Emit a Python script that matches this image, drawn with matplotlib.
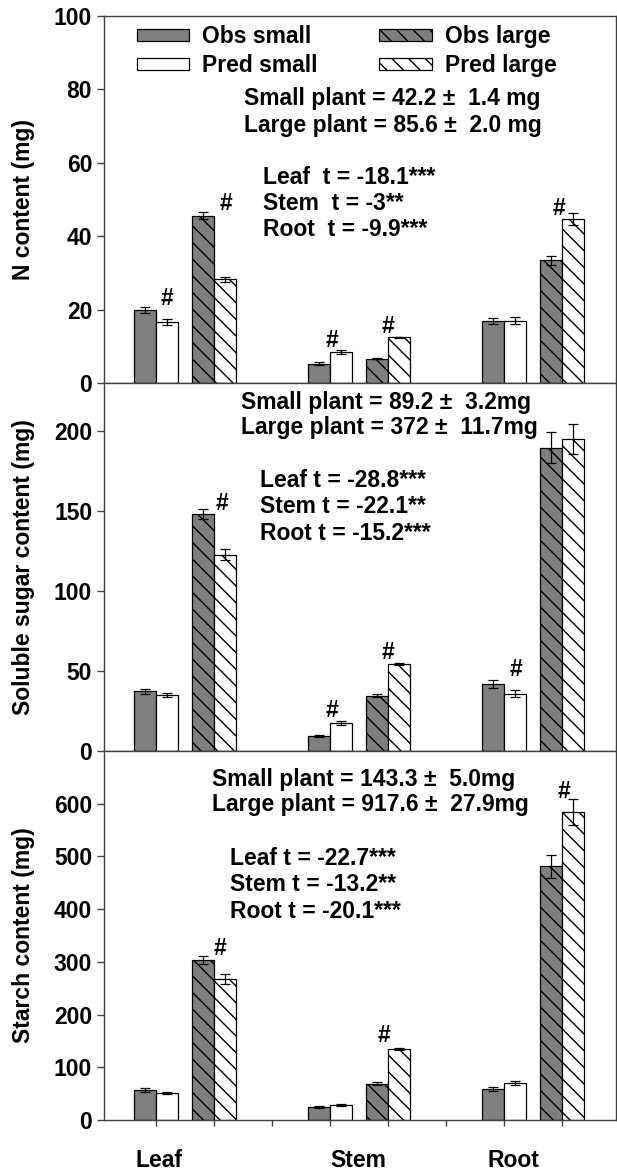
import numpy as np
import matplotlib
matplotlib.use("Agg")
import matplotlib.pyplot as plt

plt.rcParams['font.family'] = ['Liberation Sans', 'DejaVu Sans']
plt.rcParams['font.weight'] = 'bold'
plt.rcParams['axes.labelweight'] = 'bold'
plt.rcParams['hatch.linewidth'] = 1.0

# ---- data ----
organs = ["Leaf", "Stem", "Root"]
series = ["Obs small", "Pred small", "Obs large", "Pred large"]

# N content (mg): order Leaf, Stem, Root
n_obs_small = [19.9, 5.3, 17.0]
n_obs_small_err = [0.9, 0.4, 0.8]
n_pred_small = [16.7, 8.4, 17.0]
n_pred_small_err = [0.8, 0.5, 0.9]
n_obs_large = [45.6, 6.6, 33.4]
n_obs_large_err = [1.0, 0.1, 1.3]
n_pred_large = [28.3, 12.4, 44.7]
n_pred_large_err = [0.7, 0.1, 1.6]

# soluble sugar content (mg)
s_obs_small = [37.3, 9.2, 41.9]
s_obs_small_err = [1.5, 0.5, 2.3]
s_pred_small = [35.2, 17.7, 35.9]
s_pred_small_err = [1.3, 1.2, 2.3]
s_obs_large = [148.1, 34.6, 189.6]
s_obs_large_err = [3.4, 0.8, 9.6]
s_pred_large = [122.8, 54.4, 194.8]
s_pred_large_err = [3.3, 0.8, 9.3]

# starch content (mg)
st_obs_small = [57.0, 24.7, 59.0]
st_obs_small_err = [3.0, 1.0, 4.0]
st_pred_small = [51.3, 29.0, 70.0]
st_pred_small_err = [2.5, 1.5, 3.5]
st_obs_large = [303.0, 69.0, 481.6]
st_obs_large_err = [7.5, 2.5, 22.0]
st_pred_large = [267.4, 135.0, 584.3]
st_pred_large_err = [9.0, 1.5, 25.0]

n_text = ["Small plant = 42.2 \u00b1  1.4 mg", "Large plant = 85.6 \u00b1  2.0 mg"]
n_ttest = ["Leaf  t = -18.1***", "Stem  t = -3**", "Root  t = -9.9***"]
s_text = ["Small plant = 89.2 \u00b1  3.2mg", "Large plant = 372 \u00b1  11.7mg"]
s_ttest = ["Leaf t = -28.8***", "Stem t = -22.1**", "Root t = -15.2***"]
st_text = ["Small plant = 143.3 \u00b1  5.0mg", "Large plant = 917.6 \u00b1  27.9mg"]
st_ttest = ["Leaf t = -22.7***", "Stem t = -13.2**", "Root t = -20.1***"]

# "#" marks: x position on the bar axis, y value
n_hash_x = [1.19, 2.21, 4.03, 5.0, 7.95]
n_hash_y = [23.0, 48.8, 11.7, 15.3, 47.6]
s_hash_x = [2.13, 4.03, 5.0, 7.2]
s_hash_y = [154.8, 25.4, 61.7, 51.0]
st_hash_x = [2.1, 4.93, 8.03]
st_hash_y = [325.0, 160.0, 623.0]

FS = 16.5
GRAY = '#7f7f7f'
W = 0.375
small_pos = np.array([1, 4, 7])
large_pos = np.array([2, 5, 8])


def draw_panel(ax, obs_s, obs_s_e, pred_s, pred_s_e, obs_l, obs_l_e, pred_l, pred_l_e):
    ekw = dict(ecolor='black', elinewidth=0.9, capsize=3.8, capthick=0.9)
    b1 = ax.bar(small_pos - W / 2, obs_s, W, yerr=obs_s_e, color=GRAY,
                edgecolor='black', linewidth=0.9, error_kw=ekw, zorder=2)
    b2 = ax.bar(small_pos + W / 2, pred_s, W, yerr=pred_s_e, color='white',
                edgecolor='black', linewidth=0.9, error_kw=ekw, zorder=2)
    b3 = ax.bar(large_pos - W / 2, obs_l, W, yerr=obs_l_e, color=GRAY,
                edgecolor='black', linewidth=0.9, hatch='\\\\', error_kw=ekw, zorder=2)
    b4 = ax.bar(large_pos + W / 2, pred_l, W, yerr=pred_l_e, color='white',
                edgecolor='black', linewidth=0.9, hatch='\\\\', error_kw=ekw, zorder=2)
    ax.set_xlim(0.1, 8.93)
    for sp in ax.spines.values():
        sp.set_color('#404040')
        sp.set_linewidth(1.0)
    ax.tick_params(axis='y', direction='out', length=5, width=1,
                   labelsize=FS, color='#404040')
    ax.tick_params(axis='x', length=0, labelbottom=False)
    return [b1, b2, b3, b4]


def add_text(ax, lines, x, y0, dy):
    for i, t in enumerate(lines):
        ax.text(x, y0 - i * dy, t, transform=ax.transAxes, fontsize=FS,
                fontweight='bold', ha='left', va='center')


fig = plt.figure(figsize=(6.17, 11.73), dpi=100)
left, width = 104 / 617, 512 / 617
ax1 = fig.add_axes([left, 1 - 383 / 1173, width, 367 / 1173])
ax2 = fig.add_axes([left, 1 - 751 / 1173, width, 368 / 1173])
ax3 = fig.add_axes([left, 1 - 1120 / 1173, width, 369 / 1173])

# N content
bars = draw_panel(ax1, n_obs_small, n_obs_small_err, n_pred_small, n_pred_small_err,
                  n_obs_large, n_obs_large_err, n_pred_large, n_pred_large_err)
ax1.set_ylim(0, 100)
ax1.set_yticks(np.arange(0, 101, 20))
ax1.set_ylabel("N content (mg)", fontsize=FS)
add_text(ax1, n_text, 0.273, 0.774, 0.073)
add_text(ax1, n_ttest, 0.311, 0.559, 0.071)
for x, y in zip(n_hash_x, n_hash_y):
    ax1.text(x, y, "#", fontsize=FS, fontweight='bold', ha='center', va='center')
ax1.legend([bars[0], bars[1], bars[2], bars[3]], series, ncol=2, frameon=False,
           loc='upper left', bbox_to_anchor=(0.064, 0.975), borderaxespad=0,
           borderpad=0, handlelength=2.3, handleheight=0.45, handletextpad=0.55,
           columnspacing=2.7, labelspacing=0.25, prop={'size': FS, 'weight': 'bold'})

# soluble sugar
draw_panel(ax2, s_obs_small, s_obs_small_err, s_pred_small, s_pred_small_err,
           s_obs_large, s_obs_large_err, s_pred_large, s_pred_large_err)
ax2.set_ylim(0, 230)
ax2.set_yticks(np.arange(0, 201, 50))
ax2.set_ylabel("Soluble sugar content (mg)", fontsize=FS)
add_text(ax2, s_text, 0.268, 0.948, 0.07)
add_text(ax2, s_ttest, 0.305, 0.736, 0.072)
for x, y in zip(s_hash_x, s_hash_y):
    ax2.text(x, y, "#", fontsize=FS, fontweight='bold', ha='center', va='center')

# starch
draw_panel(ax3, st_obs_small, st_obs_small_err, st_pred_small, st_pred_small_err,
           st_obs_large, st_obs_large_err, st_pred_large, st_pred_large_err)
ax3.set_ylim(0, 700)
ax3.set_yticks(np.arange(0, 601, 100))
ax3.set_ylabel("Starch content (mg)", fontsize=FS)
add_text(ax3, st_text, 0.211, 0.924, 0.07)
add_text(ax3, st_ttest, 0.246, 0.710, 0.073)
for x, y in zip(st_hash_x, st_hash_y):
    ax3.text(x, y, "#", fontsize=FS, fontweight='bold', ha='center', va='center')

ax3.set_xticks([1.05, 4.48, 7.16], organs)
ax3.set_xticks(np.arange(1, 9), minor=True)
ax3.tick_params(axis='x', which='major', length=0, pad=21, labelbottom=True,
                labelsize=FS)
ax3.tick_params(axis='x', which='minor', direction='out', length=4.5, width=1,
                color='#404040')

for ax in (ax1, ax2, ax3):
    ax.yaxis.set_label_coords(-0.135, 0.5)

fig.savefig("out.png", dpi=100)
